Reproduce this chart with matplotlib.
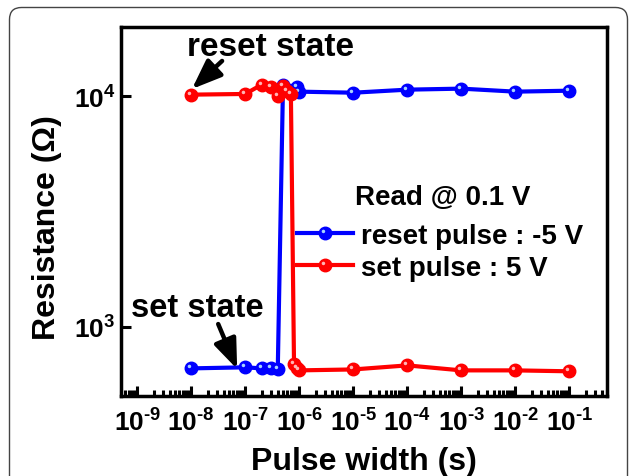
import numpy as np
import matplotlib
matplotlib.use('Agg')
import matplotlib.pyplot as plt
from matplotlib.path import Path
from matplotlib.markers import MarkerStyle
from matplotlib.legend_handler import HandlerTuple
from matplotlib.patches import FancyBboxPatch
from matplotlib.ticker import LogLocator, NullLocator, FixedLocator, FixedFormatter
from matplotlib.transforms import IdentityTransform

plt.rcParams['font.family'] = ['Liberation Sans', 'DejaVu Sans']
plt.rcParams['font.weight'] = 'bold'
plt.rcParams['mathtext.fontset'] = 'custom'
plt.rcParams['mathtext.rm'] = 'Liberation Sans:bold'
plt.rcParams['mathtext.it'] = 'Liberation Sans:bold'
plt.rcParams['mathtext.bf'] = 'Liberation Sans:bold'

# ---- data ----
reset_x = [1e-8, 1e-7, 2e-7, 3e-7, 4e-7, 5e-7, 9e-7, 1e-6, 1e-5, 1e-4, 1e-3, 1e-2, 1e-1]
reset_y = [659, 666, 659, 659, 652, 11230, 11010, 10480, 10370, 10690, 10800, 10480, 10580]

set_x = [1e-8, 1e-7, 2e-7, 3e-7, 4e-7, 5e-7, 6e-7, 7e-7, 8e-7, 9e-7, 1e-6, 1e-5, 1e-4, 1e-3, 1e-2, 1e-1]
set_y = [10170, 10240, 11230, 10980, 10000, 11120, 10510, 10240, 686, 659, 646, 652, 679, 646, 646, 640]

xtick_exps = [-9, -8, -7, -6, -5, -4, -3, -2, -1]
ytick_exps = [3, 4]

legend_title = 'Read @ 0.1 V'
legend_labels = ['reset pulse : -5 V', 'set pulse : 5 V']


def pow_label(e):
    s = str(e).replace('-', '\u2010')
    return r'$\mathbf{10^{%s}}$' % s


W, H = 629, 477
fig = plt.figure(figsize=(W / 100, H / 100), dpi=100)
fig.patch.set_facecolor('white')
ax = fig.add_axes([121 / W, 1 - 397 / H, (607 - 121) / W, (397 - 28) / H])

# highlight marker (small off-center glossy dot)
th = np.linspace(0, 2 * np.pi, 40)
verts = list(zip(-0.33 + 0.28 * np.cos(th), 0.33 + 0.28 * np.sin(th)))
codes = [Path.MOVETO] + [Path.LINETO] * (len(verts) - 2) + [Path.CLOSEPOLY]
verts += [(1, 1), (-1, -1)]
codes += [Path.MOVETO, Path.MOVETO]
hl_marker = MarkerStyle(Path(verts, codes))

ms = 9
lb, = ax.plot(reset_x, reset_y, '-o', color='#0000ff', lw=3, ms=ms, mec='#0000ff', zorder=3)
hb, = ax.plot(reset_x, reset_y, ls='none', marker=hl_marker, ms=ms, mfc='#a8d4ff', mec='none', zorder=3.1)
lr, = ax.plot(set_x, set_y, '-o', color='#ff0000', lw=3, ms=ms, mec='#ff0000', zorder=4)
hr, = ax.plot(set_x, set_y, ls='none', marker=hl_marker, ms=ms, mfc='#ffb4b4', mec='none', zorder=4.1)

ax.set_xscale('log')
ax.set_yscale('log')
ax.set_xlim(5e-10, 0.5)
ax.set_ylim(500, 2e4)

xt = [10.0 ** e for e in xtick_exps]
ax.xaxis.set_major_locator(FixedLocator(xt))
ax.xaxis.set_major_formatter(FixedFormatter([pow_label(e) for e in xtick_exps]))
ax.xaxis.set_minor_locator(LogLocator(base=10, subs=np.arange(2, 10), numticks=30))
yt = [10.0 ** e for e in ytick_exps]
ax.yaxis.set_major_locator(FixedLocator(yt))
ax.yaxis.set_major_formatter(FixedFormatter([pow_label(e) for e in ytick_exps]))
ax.yaxis.set_minor_locator(NullLocator())

ax.tick_params(axis='both', which='both', direction='in', top=False, right=False, width=2.2)
ax.tick_params(axis='both', which='major', length=7, labelsize=19)
ax.tick_params(axis='x', which='major', pad=9)
ax.tick_params(axis='y', which='major', pad=4)
ax.tick_params(axis='x', which='minor', length=4)
for s in ax.spines.values():
    s.set_linewidth(2.5)

ax.set_xlabel('Pulse width (s)', fontsize=23, fontweight='bold')
ax.set_ylabel('Resistance (\u03a9)', fontsize=23, fontweight='bold')
ax.xaxis.set_label_coords(0.5, -0.136)
ax.yaxis.set_label_coords(-0.122, 0.458)

# annotations
ax.text(0.3086, 0.947, 'reset state', transform=ax.transAxes, ha='center', va='center', fontsize=24)
ax.text(0.157, 0.239, 'set state', transform=ax.transAxes, ha='center', va='center', fontsize=23.5)
ap = dict(arrowstyle='-|>,head_length=0.9,head_width=0.35', color='k', lw=3.2, mutation_scale=20,
          shrinkA=0, shrinkB=0)
ax.annotate('', xy=(0.146, 0.832), xytext=(0.208, 0.908), xycoords='axes fraction', arrowprops=ap)
ax.annotate('', xy=(0.239, 0.073), xytext=(0.200, 0.195), xycoords='axes fraction', arrowprops=ap)

# legend title as its own text, legend entries below
ax.text(0.6626, 0.539, legend_title, transform=ax.transAxes, ha='center', va='center', fontsize=20)
leg = ax.legend([(lb, hb), (lr, hr)], legend_labels, handler_map={tuple: HandlerTuple(ndivide=1)},
                frameon=False, fontsize=20,
                loc='upper left', bbox_to_anchor=(297 / W, 1 - 224 / H), bbox_transform=fig.transFigure,
                borderpad=0, borderaxespad=0, handlelength=2.0, handletextpad=0.3, labelspacing=0.22)

# outer rounded frame
frame = FancyBboxPatch((9.5, -20), 618, H - 8.5 + 20, boxstyle='round,pad=0,rounding_size=12',
                       transform=IdentityTransform(), facecolor='none', edgecolor='#444444', lw=1.0)
fig.add_artist(frame)

fig.savefig('out.png', dpi=100)
